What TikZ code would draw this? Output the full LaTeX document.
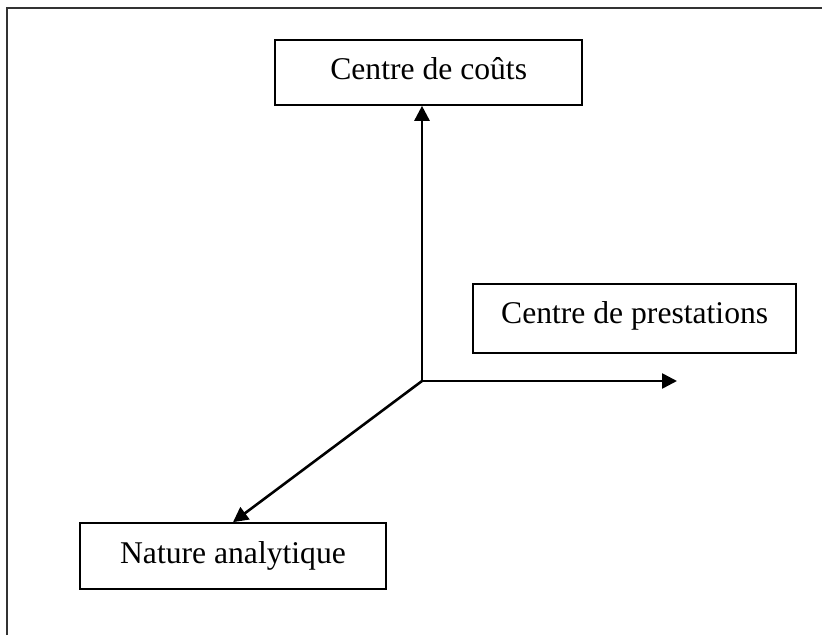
\documentclass[tikz,border=0pt]{standalone}
\usepackage{fontspec}
\setmainfont{Liberation Serif}
\usetikzlibrary{arrows.meta}
\tikzset{
  boite/.style={draw, line width=1.4pt, inner sep=0pt, anchor=base, text height=1.2cm, font=\fontsize{27}{32}\selectfont},
  fleche/.style={line width=2.2pt, -{Triangle[length=0.45cm,width=0.45cm]}}
}
\begin{document}
\begin{tikzpicture}
\useasboundingbox (0,0) rectangle (24.66,19.05);
%CADRE
\draw[line width=1.2pt, black!80] (0.21,0) -- (0.21,18.81) -- (24.66,18.81);

%AXES
\node (couts) at (12.86,16.65) [boite, minimum width=9.21cm, text depth=0.75cm] {Centre de coûts};
\node (prest) at (19.04,9.33) [boite, minimum width=9.69cm, text depth=0.87cm] {Centre de prestations};
\node (nature) at (6.99,2.16) [boite, minimum width=9.18cm, text depth=0.78cm] {Nature analytique};
\coordinate (o) at (12.66,7.62);
\coordinate (h) at (20.31,7.62);

\draw[fleche] (o) -- (o |- couts.south);
\draw[fleche] (o) -- (h);
\draw[fleche] (o) -- (nature.north);
\end{tikzpicture}
\end{document}
